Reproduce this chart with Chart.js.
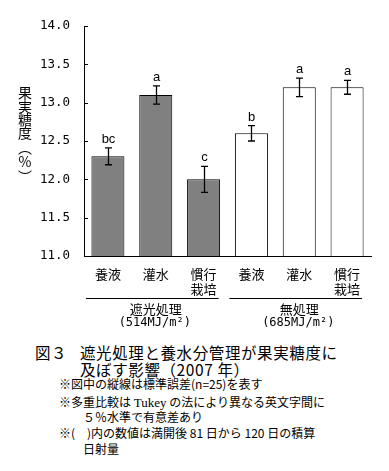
<!DOCTYPE html>
<html><head><meta charset="utf-8">
<script src="https://cdn.jsdelivr.net/npm/chart.js@4/dist/chart.umd.min.js"></script>
<style>
html,body{margin:0;padding:0;background:#fff;}
#wrap{position:relative;width:389px;height:471px;overflow:hidden;background:#fff;}
canvas{position:absolute;left:0;top:0;}
.t{position:absolute;white-space:pre;font-family:"Noto Sans CJK JP";color:#000;}
.cap{font-size:15.5px;line-height:16px;letter-spacing:0.6px;}
.note{font-size:12px;line-height:16px;}
.serif{font-family:"Liberation Serif";font-size:13px;}
</style>
</head><body>
<div id="wrap">
<canvas id="c" width="389" height="340"></canvas>
<div class="t cap" style="left:35px;top:344px;">図３</div>
<div class="t cap" style="left:80px;top:344px;">遮光処理と養水分管理が果実糖度に</div>
<div class="t cap" style="left:80px;top:361px;">及ぼす影響（2007 年）</div>
<div class="t note" style="left:59px;top:376px;">※図中の縦線は標準誤差(n=25)を表す</div>
<div class="t note" style="left:59px;top:394px;">※多重比較は <span class="serif">Tukey</span> の法により異なる英文字間に</div>
<div class="t note" style="left:83px;top:409px;">５％水準で有意差あり</div>
<div class="t note" style="left:59px;top:425px;">※(　)内の数値は満開後 81 日から 120 日の積算</div>
<div class="t note" style="left:83px;top:441px;">日射量</div>
</div>
<script>
const categories = [["養液"],["灌水"],["慣行","栽培"],["養液"],["灌水"],["慣行","栽培"]];
const means = [12.3, 13.1, 12.0, 12.6, 13.2, 13.2];
const stdErrors = [0.11, 0.12, 0.17, 0.10, 0.12, 0.09];
const letters = ["bc","a","c","b","a","a"];
const groupNames = ["遮光処理","無処理"];
const groupSub = ["(514MJ/m²)","(685MJ/m²)"];
const groupMembers = [[0,1,2],[3,4,5]];
const yTitle = ["果","実","糖","度","︵","%","︶"];
const barFill = ["#808080","#808080","#808080","#ffffff","#ffffff","#ffffff"];

const extras = {
  id:'extras',
  afterDatasetsDraw(chart){
    const ctx = chart.ctx;
    const x = chart.scales.x, y = chart.scales.y;
    ctx.save();
    ctx.strokeStyle = '#000';
    ctx.fillStyle = '#000';
    ctx.lineWidth = 1;
    y.ticks.forEach(t=>{
      const py = Math.round(y.getPixelForValue(t.value)) + 0.5;
      ctx.beginPath();
      ctx.moveTo(chart.chartArea.left, py);
      ctx.lineTo(chart.chartArea.left + 4, py);
      ctx.stroke();
    });
    ctx.lineWidth = 1.3;
    ctx.font = '13px "Liberation Sans"';
    ctx.textAlign = 'center';
    ctx.textBaseline = 'alphabetic';
    means.forEach((m,i)=>{
      const px = Math.round(x.getPixelForValue(i)) + 0.5;
      const top = y.getPixelForValue(m + stdErrors[i]);
      const bot = y.getPixelForValue(m - stdErrors[i]);
      ctx.beginPath();
      ctx.moveTo(px, top); ctx.lineTo(px, bot);
      ctx.moveTo(px-3.5, top); ctx.lineTo(px+3.5, top);
      ctx.moveTo(px-3.5, bot); ctx.lineTo(px+3.5, bot);
      ctx.stroke();
      ctx.fillText(letters[i], px, top - 5);
    });
    ctx.restore();
  },
  afterDraw(chart){
    const ctx = chart.ctx;
    const x = chart.scales.x;
    ctx.save();
    ctx.fillStyle = '#000';
    ctx.strokeStyle = '#000';
    ctx.lineWidth = 1;
    groupMembers.forEach((g,gi)=>{
      const x0 = x.getPixelForValue(g[0]) - 22;
      const x1 = x.getPixelForValue(g[g.length-1]) + 15;
      const ly = 298.5;
      ctx.beginPath(); ctx.moveTo(x0, ly); ctx.lineTo(x1, ly); ctx.stroke();
      const cx = x.getPixelForValue(g[1]);
      ctx.textAlign = 'center'; ctx.textBaseline = 'middle';
      ctx.font = '13px "Noto Sans CJK JP"';
      ctx.fillText(groupNames[gi], cx, 309);
      ctx.font = '12px "DejaVu Sans Mono"';
      ctx.fillText(groupSub[gi], cx - 1, 323);
    });
    ctx.font = '14px "Noto Sans CJK JP"';
    ctx.textAlign = 'center'; ctx.textBaseline = 'middle';
    const ys = [93,107,120,133,148,162,177];
    yTitle.forEach((ch,i)=> ctx.fillText(ch, 25, ys[i]));
    ctx.restore();
  }
};

new Chart(document.getElementById('c'), {
  type:'bar',
  data:{
    labels: categories,
    datasets:[{
      data: means,
      backgroundColor: barFill,
      borderColor:'#000',
      borderWidth:1,
      borderSkipped:false,
      categoryPercentage:1.0,
      barPercentage:0.69
    }]
  },
  options:{
    responsive:false,
    animation:false,
    devicePixelRatio:1,
    layout:{padding:{top:26,right:18,bottom:0,left:0}},
    plugins:{legend:{display:false},tooltip:{enabled:false}},
    scales:{
      x:{
        grid:{display:false, drawTicks:false},
        border:{display:true,color:'#000',width:1},
        ticks:{color:'#000',padding:11,maxRotation:0,autoSkip:false,
          font:{family:'"Noto Sans CJK JP"',size:13,lineHeight:1.15}},
        afterFit(s){ s.height = 84; }
      },
      y:{
        min:11,max:14,
        grid:{drawOnChartArea:false, drawTicks:false},
        border:{display:true,color:'#000',width:1},
        ticks:{stepSize:0.5,color:'#000',padding:14,
          font:{family:'"DejaVu Sans Mono"',size:12.5},
          callback:v=>Number(v).toFixed(1)},
        afterFit(s){ s.width = 84; }
      }
    }
  },
  plugins:[extras]
});
</script>
</body></html>
